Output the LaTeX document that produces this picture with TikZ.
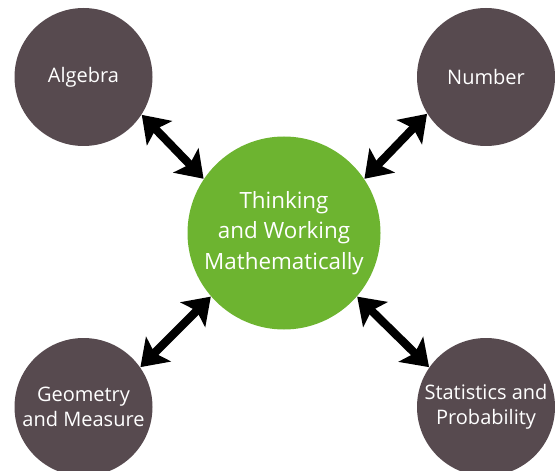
\documentclass[tikz,border=0pt]{standalone}
\usepackage{fontspec}
\setmainfont{Open Sans}
\usetikzlibrary{arrows.meta}

\definecolor{topicbrown}{RGB}{87,74,79}
\definecolor{mathsgreen}{RGB}{109,180,48}

\tikzset{every picture/.style={line width=0.75pt}}
\tikzset{
  topic/.style={circle, fill=topicbrown, draw=none, minimum size=103.5pt, inner sep=0pt,
    text=white, align=center, font=\fontsize{15pt}{19pt}\selectfont},
  hub/.style={circle, fill=mathsgreen, draw=none, minimum size=144.75pt, inner sep=0pt,
    text=white, align=center, font=\fontsize{16.8pt}{23pt}\selectfont},
  linkarrow/.style={line width=6.2pt, {Stealth[length=19pt,width=26pt,inset=4pt]}-{Stealth[length=19pt,width=26pt,inset=4pt]}}
}

\begin{document}
\begin{tikzpicture}[x=0.75pt,y=0.75pt,yscale=-1,xscale=1]
%set diagram left start at 0, and has height of 470
\clip (0,0) rectangle (555,470);

% Centre Circle
\node [hub] (think) at (284,233) {Thinking\\and Working\\Mathematically};
% Topic Circles
\node [topic] (algebra) at (83.5,77) {Algebra};
\node [topic] (number) at (486,77) {Number};
\node [topic] (geometry) at (83.5,407) {Geometry\\and Measure};
\node [topic] (stats) at (486,407) {Statistics and\\Probability};

% Double Arrows
\draw [linkarrow] (algebra.-33) -- (think.146);
\draw [linkarrow] (number.-148) -- (think.34);
\draw [linkarrow] (geometry.35) -- (think.-139);
\draw [linkarrow] (stats.145) -- (think.-41);

\end{tikzpicture}
\end{document}
